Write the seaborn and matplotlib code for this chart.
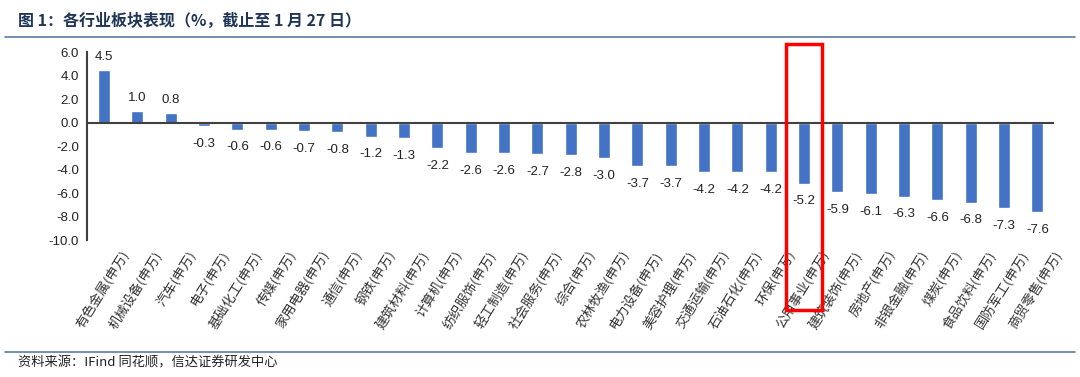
import numpy as np
import pandas as pd
import seaborn as sns
import matplotlib.pyplot as plt
from matplotlib.patches import Rectangle
from matplotlib.lines import Line2D
from matplotlib.transforms import ScaledTranslation

industries = ['有色金属', '机械设备', '汽车', '电子', '基础化工', '传媒', '家用电器', '通信',
              '钢铁', '建筑材料', '计算机', '纺织服饰', '轻工制造', '社会服务', '综合', '农林牧渔',
              '电力设备', '美容护理', '交通运输', '石油石化', '环保', '公用事业', '建筑装饰',
              '房地产', '非银金融', '煤炭', '食品饮料', '国防军工', '商贸零售']
returns = [4.5, 1.0, 0.8, -0.3, -0.6, -0.6, -0.7, -0.8, -1.2, -1.3, -2.2, -2.6, -2.6, -2.7,
           -2.8, -3.0, -3.7, -3.7, -4.2, -4.2, -4.2, -5.2, -5.9, -6.1, -6.3, -6.6, -6.8, -7.3, -7.6]
tick_labels = [s + '(申万)' for s in industries]
yticks = [6.0, 4.0, 2.0, 0.0, -2.0, -4.0, -6.0, -8.0, -10.0]
highlight = '公用事业'

df = pd.DataFrame({'industry': tick_labels, 'ret': returns})

sns.set_style('white')
plt.rcParams['font.family'] = ['Liberation Sans', 'Noto Sans CJK SC', 'DejaVu Sans']

fig = plt.figure(figsize=(10.8, 3.77), dpi=100)
ax = fig.add_axes([0.081, 0.363, 0.895, 0.499])

sns.barplot(data=df, x='industry', y='ret', color='#4472C4', width=0.36,
            saturation=1, ax=ax)

ax.set_ylim(-10, 6)
ax.set_xlim(-0.5, len(returns) - 0.5)
ax.set_yticks(yticks)
ax.set_yticklabels([f'{v:.1f}' for v in yticks], fontsize=9.5, color='#222222')
ax.set_xlabel('')
ax.set_ylabel('')
for s in ['top', 'right', 'bottom']:
    ax.spines[s].set_visible(False)
ax.spines['left'].set_color('#404040')
ax.spines['left'].set_linewidth(1.5)
ax.axhline(0, color='#404040', lw=1.5, zorder=1)
ax.tick_params(axis='both', length=0, pad=6)

ax.set_xticks(range(len(tick_labels)))
ax.set_xticklabels(tick_labels, rotation=58, ha='right', rotation_mode='anchor',
                   fontsize=9.5, fontweight='light', color='#333333',
                   family=['Noto Sans CJK SC', 'DejaVu Sans'])
for lab in ax.get_xticklabels():
    lab.set_transform(lab.get_transform() + ScaledTranslation(0.16, 0, fig.dpi_scale_trans))

for i, v in enumerate(returns):
    if v >= 0:
        ax.text(i, v + 0.6, f'{v:.1f}', ha='center', va='bottom', fontsize=9.5, color='#222222')
    else:
        ax.text(i, v - 1.0, f'{v:.1f}', ha='center', va='top', fontsize=9.5, color='#222222')

# red highlight box
hi = industries.index(highlight)
ax.add_patch(Rectangle((hi - 0.55, -15.95), 1.1, 22.6, fill=False, edgecolor='#FF0000',
                       lw=2.5, clip_on=False, zorder=5))

# title and source
fig.text(0.017, 0.945, '图 1：各行业板块表现（%，截止至 1 月 27 日）', fontsize=11.5,
         fontweight='bold', color='#1F3556', va='center',
         family=['Noto Sans CJK SC', 'DejaVu Sans'])
fig.add_artist(Line2D([0.005, 0.995], [0.902, 0.902], color='#5B7BA3', lw=1.2))
fig.add_artist(Line2D([0.005, 0.995], [0.066, 0.066], color='#5B7BA3', lw=1.2))
fig.text(0.017, 0.038, '资料来源：IFind 同花顺，信达证券研发中心', fontsize=9.5,
         color='#222222', va='center', style='italic',
         family=['Noto Sans CJK SC', 'DejaVu Sans'])

fig.savefig('out.png', dpi=100)
